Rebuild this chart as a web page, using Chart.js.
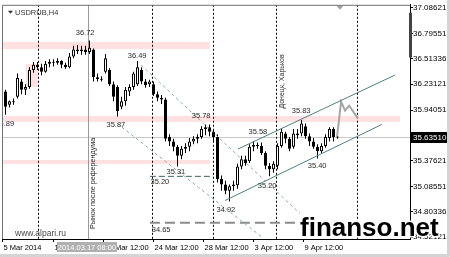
<!DOCTYPE html>
<html>
<head>
<meta charset="utf-8">
<script src="https://cdn.jsdelivr.net/npm/chart.js@4.4.1/dist/chart.umd.min.js"></script>
<style>
html, body { margin: 0; padding: 0; background: #fff; }
canvas { display: block; }
</style>
</head>
<body>
<canvas id="chartCanvas" width="450" height="257"></canvas>
<script>
// USDRUB H4 candles, bar 0 = first bar at the left edge
const opens = [36.15, 36.00, 36.04, 36.09, 36.26, 36.17, 36.20, 36.39, 36.45, 36.42,
    36.37, 36.46, 36.48, 36.47, 36.49, 36.45, 36.42, 36.54, 36.62, 36.60,
    36.62, 36.59, 36.62, 36.31, 36.29, 36.37, 36.39, 36.23, 36.20, 35.98,
    36.04, 36.15, 36.20, 36.23, 36.39, 36.26, 36.23, 36.23, 36.12, 36.08,
    36.06, 35.64, 35.59, 35.53, 35.43, 35.51, 35.53, 35.59, 35.62, 35.64,
    35.73, 35.75, 35.70, 35.64, 35.17, 35.11, 35.04, 35.09, 35.10, 35.31,
    35.39, 35.37, 35.53, 35.55, 35.54, 35.46, 35.32, 35.28, 35.32, 35.54,
    35.68, 35.62, 35.53, 35.68, 35.68, 35.76, 35.65, 35.59, 35.53, 35.48,
    35.54, 35.63, 35.73, 35.64];
const highs = [36.17, 36.05, 36.07, 36.35, 36.29, 36.23, 36.42, 36.48, 36.48, 36.46,
    36.49, 36.51, 36.51, 36.52, 36.50, 36.47, 36.58, 36.66, 36.67, 36.66,
    36.66, 36.72, 36.63, 36.35, 36.32, 36.57, 36.41, 36.26, 36.22, 36.09,
    36.20, 36.23, 36.37, 36.49, 36.42, 36.29, 36.28, 36.26, 36.15, 36.11,
    36.08, 35.67, 35.62, 35.55, 35.54, 35.57, 35.63, 35.65, 35.67, 35.76,
    35.78, 35.78, 35.73, 35.67, 35.21, 35.15, 35.11, 35.15, 35.34, 35.43,
    35.43, 35.56, 35.59, 35.58, 35.58, 35.48, 35.35, 35.37, 35.57, 35.74,
    35.70, 35.64, 35.73, 35.73, 35.83, 35.79, 35.68, 35.63, 35.56, 35.57,
    35.67, 35.75, 35.75, 35.66];
const lows = [35.89, 35.97, 36.00, 36.07, 36.12, 36.11, 36.18, 36.36, 36.39, 36.33,
    36.36, 36.42, 36.43, 36.45, 36.41, 36.40, 36.41, 36.52, 36.57, 36.56,
    36.56, 36.57, 36.26, 36.26, 36.26, 36.35, 36.21, 36.04, 35.87, 35.95,
    35.99, 36.10, 36.17, 36.21, 36.23, 36.19, 36.20, 36.10, 36.04, 36.01,
    35.59, 35.54, 35.48, 35.31, 35.39, 35.46, 35.48, 35.56, 35.57, 35.62,
    35.66, 35.65, 35.59, 35.13, 35.04, 35.00, 34.92, 35.04, 35.06, 35.28,
    35.32, 35.35, 35.48, 35.51, 35.44, 35.28, 35.20, 35.24, 35.28, 35.52,
    35.57, 35.48, 35.51, 35.62, 35.65, 35.62, 35.54, 35.51, 35.40, 35.46,
    35.52, 35.59, 35.59, 35.62];
const closes = [35.98, 36.04, 36.03, 36.30, 36.17, 36.20, 36.39, 36.45, 36.42, 36.37,
    36.46, 36.48, 36.47, 36.49, 36.45, 36.42, 36.54, 36.62, 36.60, 36.62,
    36.59, 36.64, 36.31, 36.29, 36.28, 36.52, 36.23, 36.09, 35.93, 36.04,
    36.17, 36.20, 36.35, 36.42, 36.26, 36.22, 36.26, 36.12, 36.08, 36.06,
    35.62, 35.59, 35.53, 35.43, 35.51, 35.53, 35.59, 35.62, 35.64, 35.73,
    35.75, 35.70, 35.64, 35.17, 35.11, 35.04, 35.09, 35.11, 35.31, 35.39,
    35.35, 35.53, 35.55, 35.54, 35.46, 35.32, 35.28, 35.34, 35.54, 35.70,
    35.62, 35.51, 35.68, 35.66, 35.79, 35.65, 35.59, 35.53, 35.48, 35.54,
    35.64, 35.73, 35.64, 35.635];
const lastPrice = 35.63510;

// axis ticks (bar positions of the time labels)
const priceTicks = [37.08621, 36.79551, 36.51336, 36.23121, 35.94051, 35.37621, 35.08551, 34.80336, 34.52121];
const timeTickBars = [-0.75, 12, 24.5, 37, 49.5, 62, 74.5];
const timeTickLabels = ['5 Mar 2014', '12 Mar 12:00', '18 Mar 12:00', '24 Mar 12:00', '28 Mar 12:00', '3 Apr 12:00', '9 Apr 12:00'];

// drawn objects, in [bar, price]
const fallUpper = [[33.9, 36.445], [73.6, 34.786]];
const fallLower = [[27.9, 35.792], [64.1, 34.521]];
const riseUpper = [[58.1, 35.505], [97.4, 36.334]];
const riseLower = [[54.9, 34.930], [94.1, 35.781]];
const supportA = [[36.1, 35.20], [51.9, 35.20]];
const supportB = [[36.1, 34.68], [73.6, 34.68]];
const forecast = [[82.9, 35.648], [83.9, 36.035], [84.9, 35.936], [85.9, 35.991], [88.1, 35.848]];

// pink zones: bar from, bar to, price top, price bottom
const zones = [[-2, 51.1, 36.70, 36.63], [-2, 98.6, 35.87, 35.806], [-2, 51.1, 35.383, 35.339], [5.1, 8.1, 36.456, 36.201]];
const dottedVerticals = [8.1, 36.6, 51.9, 67.6, 87.9];
const eventBar = 20.6;
const eventTime = '2014.03.17 08:00';

const levelTexts = ['36.72', '36.49', '35.87', '35.89', '35.78', '35.58', '35.83', '35.40', '35.20', '34.92', '35.31', '35.20', '34.65'];
const levelTextBars = [19.9, 32.9, 27.6, -0.2, 48.9, 63.1, 73.9, 77.9, 65.4, 55.1, 42.6, 38.6, 38.9];
const levelTextPrices = [36.80, 36.544, 35.776, 35.792, 35.881, 35.693, 35.936, 35.317, 35.096, 34.825, 35.251, 35.135, 34.598];

const FONT = '"Liberation Sans", Arial, sans-serif';
const bars = opens.map((_, i) => i);

function lineSet(points, color, width, dash) {
    return {
        type: 'line',
        data: points.map(p => ({ x: p[0], y: p[1] })),
        borderColor: color,
        borderWidth: width,
        borderDash: dash,
        pointRadius: 0,
        fill: false,
        tension: 0,
        order: 1
    };
}

const chartDecor = {
    id: 'chartDecor',
    beforeDatasetsDraw(chart) {
        const { ctx, chartArea: a, scales: { x, y } } = chart;
        ctx.save();
        ctx.beginPath();
        ctx.rect(a.left, a.top, a.right - a.left, a.bottom - a.top);
        ctx.clip();

        ctx.fillStyle = '#ffe1e1';
        zones.forEach(z => {
            const x0 = x.getPixelForValue(z[0]), x1 = x.getPixelForValue(z[1]);
            const y0 = Math.round(y.getPixelForValue(z[2])), y1 = Math.round(y.getPixelForValue(z[3]));
            ctx.fillRect(x0, y0, x1 - x0, y1 - y0);
        });

        // last price line
        const ly = Math.round(y.getPixelForValue(lastPrice)) + 0.5;
        ctx.strokeStyle = '#c8c8c8';
        ctx.lineWidth = 1;
        ctx.beginPath(); ctx.moveTo(a.left, ly); ctx.lineTo(a.right, ly); ctx.stroke();

        // event line
        const ex = Math.round(x.getPixelForValue(eventBar)) + 0.5;
        ctx.strokeStyle = '#9a9a9a';
        ctx.beginPath(); ctx.moveTo(ex, a.top); ctx.lineTo(ex, a.bottom); ctx.stroke();

        ctx.strokeStyle = '#000';
        ctx.setLineDash([2, 2]);
        dottedVerticals.forEach(b => {
            const vx = Math.round(x.getPixelForValue(b)) + 0.5;
            ctx.beginPath(); ctx.moveTo(vx, a.top); ctx.lineTo(vx, a.bottom); ctx.stroke();
        });
        ctx.setLineDash([]);

        ctx.fillStyle = '#4a4a4a';
        ctx.font = '8.5px ' + FONT;
        ctx.textBaseline = 'alphabetic';
        ctx.fillText('www.alpari.ru', a.left + 13, a.bottom - 3);

        // symbol caption
        ctx.fillStyle = '#333';
        ctx.beginPath();
        ctx.moveTo(a.left + 6, a.top + 6); ctx.lineTo(a.left + 11, a.top + 6); ctx.lineTo(a.left + 8.5, a.top + 9);
        ctx.closePath(); ctx.fill();
        ctx.font = '7.5px ' + FONT;
        ctx.textBaseline = 'middle';
        ctx.fillText('USDRUB,H4', a.left + 13, a.top + 8);
        ctx.restore();
    },
    afterDatasetsDraw(chart) {
        const { ctx, chartArea: a, scales: { x, y } } = chart;
        ctx.save();
        ctx.beginPath();
        ctx.rect(a.left, a.top, a.right - a.left, a.bottom - a.top);
        ctx.clip();

        ctx.font = '7.5px ' + FONT;
        ctx.fillStyle = '#2a2a2a';
        ctx.textAlign = 'center';
        ctx.textBaseline = 'middle';
        levelTexts.forEach((t, k) => {
            ctx.fillText(t, x.getPixelForValue(levelTextBars[k]), y.getPixelForValue(levelTextPrices[k]));
        });

        // rotated notes
        ctx.textAlign = 'left';
        ctx.font = '7.2px ' + FONT;
        ctx.save();
        ctx.translate(x.getPixelForValue(21.9), y.getPixelForValue(34.61));
        ctx.rotate(-Math.PI / 2);
        ctx.fillText('Рынок после референдума', 0, 0);
        ctx.restore();
        ctx.font = '7px ' + FONT;
        ctx.save();
        ctx.translate(x.getPixelForValue(69.1), y.getPixelForValue(35.958));
        ctx.rotate(-Math.PI / 2);
        ctx.fillText('Донецк, Харьков', 0, 0);
        ctx.restore();

        // chart shift marker
        const tx = x.getPixelForValue(83.6);
        ctx.fillStyle = '#a0a0a0';
        ctx.beginPath();
        ctx.moveTo(tx - 3.5, a.top + 1); ctx.lineTo(tx + 3.5, a.top + 1); ctx.lineTo(tx, a.top + 5);
        ctx.closePath(); ctx.fill();
        ctx.restore();

        // frame
        ctx.save();
        ctx.strokeStyle = '#707070';
        ctx.lineWidth = 1;
        ctx.beginPath();
        ctx.moveTo(a.left + 0.5, a.bottom); ctx.lineTo(a.left + 0.5, a.top + 0.5); ctx.lineTo(a.right, a.top + 0.5);
        ctx.stroke();
        ctx.fillStyle = '#444';
        ctx.fillRect(a.right - 1, y.getPixelForValue(37.03), 3, y.getPixelForValue(36.53) - y.getPixelForValue(37.03));
        ctx.restore();
    },
    afterDraw(chart) {
        const { ctx, chartArea: a, scales: { x, y } } = chart;
        ctx.save();
        // last price tag
        const ly = Math.round(y.getPixelForValue(lastPrice));
        ctx.fillStyle = '#000';
        ctx.fillRect(a.right, ly - 5, 38, 11);
        ctx.fillStyle = '#fff';
        ctx.font = '8px ' + FONT;
        ctx.textBaseline = 'middle';
        ctx.fillText(lastPrice.toFixed(5), a.right + 3, ly + 0.5);

        // event time tag
        const ex = x.getPixelForValue(eventBar);
        ctx.fillStyle = '#b0b0b0';
        ctx.fillRect(ex - 31, a.bottom + 3, 60, 10);
        ctx.fillStyle = '#fff';
        ctx.font = '7.5px ' + FONT;
        ctx.textAlign = 'center';
        ctx.fillText(eventTime, ex - 1, a.bottom + 8.5);

        // watermark
        ctx.textAlign = 'left';
        ctx.textBaseline = 'alphabetic';
        ctx.font = 'bold 26px ' + FONT;
        ctx.lineJoin = 'round';
        ctx.strokeStyle = '#fff';
        ctx.lineWidth = 3;
        ctx.strokeText('finanso.net', 300, 236);
        ctx.fillStyle = '#000';
        ctx.fillText('finanso.net', 300, 236);

        // window edge
        ctx.strokeStyle = '#d4d4d4';
        ctx.beginPath();
        ctx.moveTo(448.5, 0); ctx.lineTo(448.5, 255.5); ctx.lineTo(0, 255.5);
        ctx.stroke();
        ctx.restore();
    }
};

const ctx = document.getElementById('chartCanvas').getContext('2d');
new Chart(ctx, {
    type: 'bar',
    data: {
        datasets: [
            {
                data: bars.map(i => ({ x: i, y: [opens[i], closes[i]] })),
                backgroundColor: bars.map(i => closes[i] >= opens[i] ? '#ffffff' : '#000000'),
                borderColor: '#000',
                borderWidth: 1,
                borderSkipped: false,
                barThickness: 3,
                minBarLength: 1,
                inflateAmount: 0,
                grouped: false,
                order: 2
            },
            {
                data: bars.map(i => ({ x: i, y: [lows[i], highs[i]] })),
                backgroundColor: '#000',
                borderWidth: 0,
                barThickness: 1,
                inflateAmount: 0,
                grouped: false,
                order: 3
            },
            lineSet(fallUpper, '#8fa8a8', 1, [3, 3]),
            lineSet(fallLower, '#8fa8a8', 1, [3, 3]),
            lineSet(riseUpper, '#4f8080', 1, []),
            lineSet(riseLower, '#4f8080', 1, []),
            lineSet(supportA, '#3d6666', 1, [6, 3]),
            lineSet(supportB, '#8c8c8c', 2, [10, 5]),
            lineSet(forecast, '#a6a6a6', 2, [])
        ]
    },
    options: {
        responsive: false,
        animation: false,
        events: [],
        layout: { padding: { left: 2, top: 2, right: 0, bottom: 0 } },
        plugins: { legend: { display: false }, tooltip: { enabled: false } },
        scales: {
            x: {
                type: 'linear',
                position: 'bottom',
                offset: false,
                min: -0.875,
                max: 101.125,
                afterBuildTicks: s => { s.ticks = timeTickBars.map(v => ({ value: v })); },
                afterFit: s => { s.height = 18; },
                ticks: {
                    autoSkip: false,
                    maxRotation: 0,
                    align: 'start',
                    padding: 1,
                    labelOffset: 1,
                    color: '#000',
                    font: { family: FONT, size: 7.5 },
                    callback: (v, idx) => timeTickLabels[idx]
                },
                grid: { offset: false, drawOnChartArea: false, drawTicks: true, tickLength: 3, color: '#000' },
                border: { display: true, color: '#000' }
            },
            y: {
                type: 'linear',
                position: 'right',
                min: 34.4991,
                max: 37.1194,
                afterBuildTicks: s => { s.ticks = priceTicks.map(v => ({ value: v })); },
                afterFit: s => { s.width = 40; },
                ticks: {
                    autoSkip: false,
                    padding: 0,
                    color: '#000',
                    font: { family: FONT, size: 8 },
                    callback: v => v.toFixed(5)
                },
                grid: { drawOnChartArea: false, drawTicks: true, tickLength: 3, color: '#000' },
                border: { display: true, color: '#000' }
            }
        }
    },
    plugins: [chartDecor]
});
</script>
</body>
</html>
